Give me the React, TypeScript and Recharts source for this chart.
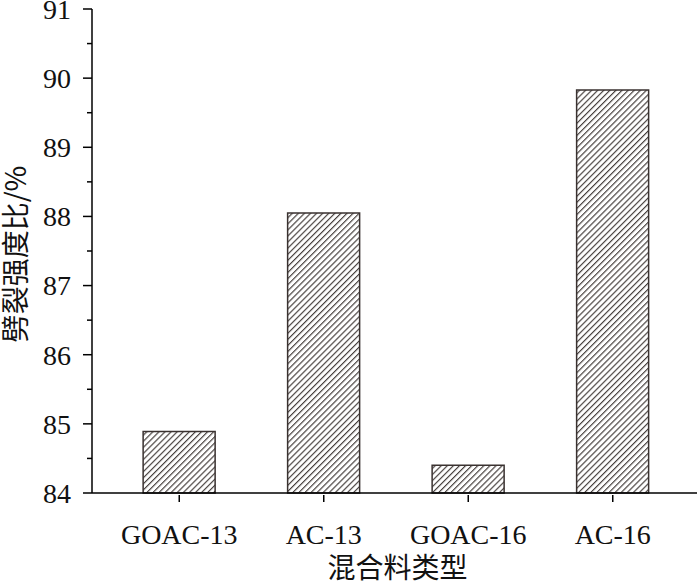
import React from 'react';
import { BarChart, Bar, XAxis, YAxis } from 'recharts';

const categories = ['GOAC-13', 'AC-13', 'GOAC-16', 'AC-16'];
const ratioValues = [84.89, 88.05, 84.4, 89.83];
const yTicks = [84, 84.5, 85, 85.5, 86, 86.5, 87, 87.5, 88, 88.5, 89, 89.5, 90, 90.5, 91];

const data = categories.map((c, i) => ({ name: c, value: ratioValues[i] }));

const FONT = '"Liberation Serif", "Times New Roman", "Noto Sans CJK SC", serif';
const CJK_FONT = '"Noto Sans CJK SC", "Liberation Serif", serif';

const YTick = (props: any) => {
  const { x, y, payload } = props;
  const v = payload.value;
  const major = Math.abs(v - Math.round(v)) < 1e-6;
  return (
    <g>
      <line x1={x - (major ? 9 : 5)} y1={y} x2={x} y2={y} stroke="#000" strokeWidth={1.5} />
      {major && (
        <text x={x - 21} y={y} dy="0.35em" textAnchor="end" fontFamily={FONT} fontSize={28} fill="#111">
          {v}
        </text>
      )}
    </g>
  );
};

const XTick = (props: any) => {
  const { x, y, payload } = props;
  return (
    <g>
      <line x1={x} y1={y} x2={x} y2={y + 7} stroke="#000" strokeWidth={1.5} />
      <text x={x} y={y + 49} textAnchor="middle" fontFamily={FONT} fontSize={28} fill="#111">
        {payload.value}
      </text>
    </g>
  );
};

export default function App() {
  return (
    <div style={{ position: 'absolute', left: 0, top: 0, width: 700, height: 583, background: '#fff', overflow: 'hidden' }}>
      <BarChart
        width={700}
        height={583}
        data={data}
        margin={{ top: 9, right: 3, left: 0, bottom: 30 }}
        barCategoryGap="25%"
      >
        <defs>
          <pattern id="hatch" width="4.3" height="4.3" patternUnits="userSpaceOnUse" patternTransform="rotate(45)">
            <rect x="0" y="0" width="4.3" height="4.3" fill="#fff" />
            <line x1="0.6" y1="0" x2="0.6" y2="4.3" stroke="#3a3230" strokeWidth={1.1} />
          </pattern>
        </defs>
        <XAxis
          dataKey="name"
          height={60}
          padding={{ left: 15, right: 12 }}
          axisLine={{ stroke: '#000', strokeWidth: 1.5 }}
          tickLine={false}
          tickSize={0}
          tick={<XTick />}
          interval={0}
          label={{
            content: (p: any) => {
              const vb = p.viewBox;
              return (
                <text x={vb.x + vb.width / 2 + 3} y={vb.y + 85} textAnchor="middle" fontFamily={CJK_FONT} fontSize={28} fill="#111">
                  混合料类型
                </text>
              );
            },
          }}
        />
        <YAxis
          width={92}
          domain={[84, 91]}
          ticks={yTicks}
          interval={0}
          axisLine={{ stroke: '#000', strokeWidth: 1.5 }}
          tickLine={false}
          tickSize={0}
          tickMargin={0}
          tick={<YTick />}
          label={{
            content: (p: any) => {
              const vb = p.viewBox;
              const cy = vb.y + vb.height / 2 + 3;
              return (
                <text x={14} y={cy} transform={`rotate(-90, 14, ${cy})`} textAnchor="middle" dominantBaseline="central" fontFamily={CJK_FONT} fontSize={28} fill="#111">
                  劈裂强度比/%
                </text>
              );
            },
          }}
        />
        <Bar dataKey="value" fill="url(#hatch)" stroke="#3a3230" strokeWidth={1.5} isAnimationActive={false} />
      </BarChart>
    </div>
  );
}
